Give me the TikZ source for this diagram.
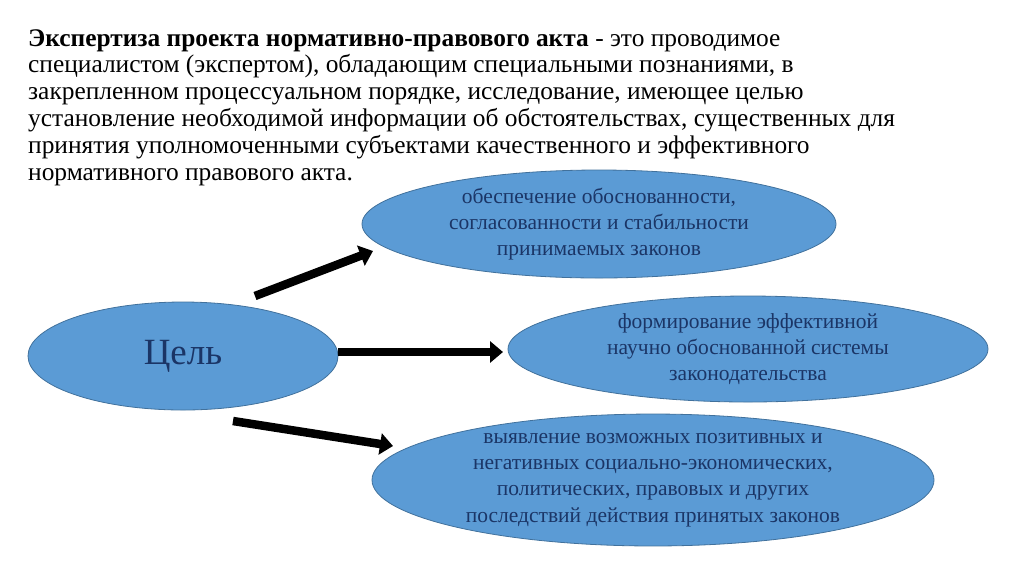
\documentclass[tikz,border=0pt]{standalone}
\usepackage{fontspec}
\setmainfont{Liberation Serif}
\usetikzlibrary{shapes.geometric,arrows.meta}
\definecolor{ellfill}{HTML}{5B9BD5}
\definecolor{elldraw}{HTML}{41719C}
\definecolor{elltext}{HTML}{1B3566}
\begin{document}
\begin{tikzpicture}[x=1pt,y=-1pt,
  oval/.style={ellipse,fill=ellfill,draw=elldraw,line width=0.8pt,inner sep=0pt,
    text=elltext,align=center,font=\fontsize{21.5}{26.2}\selectfont},
  fatarrow/.style={line width=8.5pt,-{Triangle[length=13pt,width=21pt]}}]
\useasboundingbox (0,0) rectangle (1024,574);
\node[anchor=north west,align=left,inner sep=0pt,font=\fontsize{25.4}{26.8}\selectfont] (intro) at (28,29)
{\textbf{Экспертиза проекта нормативно-правового акта} - это проводимое\\
специалистом (экспертом), обладающим специальными познаниями, в\\
закрепленном процессуальном порядке, исследование, имеющее целью\\
установление необходимой информации об обстоятельствах, существенных для\\
принятия уполномоченными субъектами качественного и эффективного\\
нормативного правового акта.};
\node[oval,minimum width=310pt,minimum height=108pt,font=\fontsize{37}{40}\selectfont] (goal) at (183,356) {Цель};
\node[oval,minimum width=474pt,minimum height=108pt] (g1) at (599,224)
{обеспечение обоснованности,\\согласованности и стабильности\\принимаемых законов};
\node[oval,minimum width=480pt,minimum height=106pt] (g2) at (748,349)
{формирование эффективной\\научно обоснованной системы\\законодательства};
\node[oval,minimum width=562pt,minimum height=120pt] (g3) at (653,480)
{выявление возможных позитивных и\\негативных социально-экономических,\\политических, правовых и других\\последствий действия принятых законов};
\coordinate (s1) at (255,296);
\coordinate (e1) at (373,251);
\coordinate (s2) at (338,352);
\coordinate (e2) at (503,352);
\coordinate (s3) at (233,421);
\coordinate (e3) at (393,446);
\draw[fatarrow] (s1) -- (e1);
\draw[fatarrow] (s2) -- (e2);
\draw[fatarrow] (s3) -- (e3);
\end{tikzpicture}
\end{document}
